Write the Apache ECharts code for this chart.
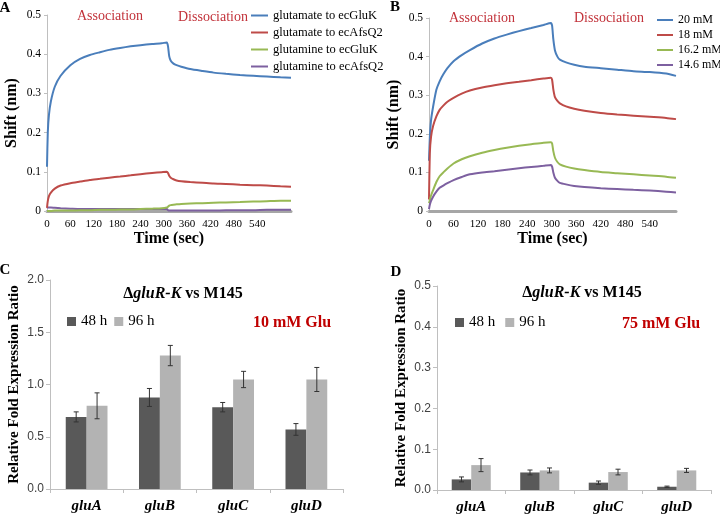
<!DOCTYPE html>
<html>
<head>
<meta charset="utf-8">
<script src="https://cdn.jsdelivr.net/npm/echarts@6/dist/echarts.min.js"></script>
<style>
  html, body { margin: 0; padding: 0; background: #fff; }
  #main { width: 720px; height: 516px; }
</style>
</head>
<body>
<div id="main"></div>
<script>
// ---- panel A : binding curves (time in sec, shift in nm)
var timeA = [0, 2, 5, 10, 20, 35, 60, 85, 110, 136, 160, 188, 215, 240, 270, 295, 308, 311, 314, 318, 325, 333, 345, 368, 400, 428, 460, 496, 530, 565, 600, 627];
var gluToGluK = [0.113, 0.2, 0.245, 0.28, 0.317, 0.345, 0.372, 0.388, 0.398, 0.405, 0.411, 0.416, 0.42, 0.423, 0.426, 0.428, 0.43, 0.42, 0.395, 0.383, 0.376, 0.372, 0.368, 0.362, 0.357, 0.353, 0.35, 0.347, 0.345, 0.343, 0.341, 0.34];
var gluToAfsQ2 = [0.008, 0.025, 0.038, 0.047, 0.057, 0.065, 0.071, 0.075, 0.079, 0.082, 0.085, 0.088, 0.091, 0.094, 0.097, 0.099, 0.1, 0.097, 0.09, 0.085, 0.081, 0.078, 0.076, 0.074, 0.072, 0.07, 0.069, 0.067, 0.066, 0.065, 0.063, 0.062];
var glnToGluK = [0, 0, 0, 0, 0.001, 0.001, 0.001, 0.002, 0.002, 0.003, 0.003, 0.004, 0.004, 0.005, 0.006, 0.007, 0.009, 0.011, 0.014, 0.015, 0.016, 0.017, 0.018, 0.019, 0.02, 0.021, 0.022, 0.023, 0.024, 0.025, 0.026, 0.026];
var glnToAfsQ2 = [0.01, 0.009, 0.009, 0.009, 0.008, 0.007, 0.006, 0.005, 0.005, 0.005, 0.005, 0.005, 0.005, 0.005, 0.005, 0.005, 0.005, 0.002, 0.001, 0.001, 0.001, 0.001, 0.001, 0.001, 0.001, 0.001, 0.002, 0.002, 0.002, 0.003, 0.003, 0.003];
var namesA = ['glutamate to ecGluK', 'glutamate to ecAfsQ2', 'glutamine to ecGluK', 'glutamine to ecAfsQ2'];

// ---- panel B : concentration series
var timeB = [0, 2, 5, 10, 18, 26, 35, 45, 60, 80, 100, 130, 160, 190, 220, 250, 280, 298, 301, 304, 308, 314, 320, 335, 355, 380, 420, 460, 500, 540, 580, 604];
var mM20 = [0.13, 0.19, 0.235, 0.27, 0.314, 0.336, 0.354, 0.37, 0.388, 0.404, 0.417, 0.434, 0.447, 0.457, 0.466, 0.474, 0.482, 0.487, 0.48, 0.445, 0.416, 0.4, 0.392, 0.385, 0.379, 0.374, 0.37, 0.366, 0.362, 0.36, 0.356, 0.35];
var mM18 = [0.03, 0.15, 0.192, 0.22, 0.245, 0.262, 0.273, 0.283, 0.293, 0.304, 0.312, 0.32, 0.326, 0.331, 0.335, 0.339, 0.343, 0.345, 0.34, 0.315, 0.295, 0.285, 0.279, 0.271, 0.265, 0.26, 0.254, 0.25, 0.247, 0.244, 0.241, 0.238];
var mM162 = [0.02, 0.028, 0.04, 0.054, 0.075, 0.09, 0.1, 0.11, 0.123, 0.134, 0.142, 0.151, 0.158, 0.164, 0.169, 0.173, 0.177, 0.178, 0.175, 0.155, 0.138, 0.127, 0.121, 0.115, 0.11, 0.106, 0.101, 0.098, 0.095, 0.092, 0.089, 0.086];
var mM146 = [0.005, 0.016, 0.026, 0.037, 0.05, 0.06, 0.066, 0.072, 0.08, 0.088, 0.095, 0.1, 0.103, 0.107, 0.111, 0.114, 0.117, 0.119, 0.115, 0.1, 0.086, 0.078, 0.073, 0.069, 0.065, 0.062, 0.059, 0.057, 0.055, 0.053, 0.05, 0.048];
var namesB = ['20 mM', '18 mM', '16.2 mM', '14.6 mM'];

// ---- panels C / D : qPCR ratios
var genes = ['gluA', 'gluB', 'gluC', 'gluD'];
var c48 = [0.69, 0.876, 0.783, 0.57];
var c48Err = [0.048, 0.086, 0.045, 0.056];
var c96 = [0.796, 1.277, 1.048, 1.048];
var c96Err = [0.124, 0.097, 0.078, 0.115];
var d48 = [0.026, 0.043, 0.018, 0.008];
var d48Err = [0.006, 0.006, 0.004, 0.0015];
var d96 = [0.061, 0.048, 0.044, 0.048];
var d96Err = [0.016, 0.006, 0.007, 0.005];

var lineColors = ['#4a7ebb', '#be4b48', '#98b954', '#7d60a0'];
var SERIF = '"Liberation Serif", "DejaVu Serif", serif';
var SANS = '"Liberation Sans", Arial, sans-serif';
var RED = '#c2323a';

var chart = echarts.init(document.getElementById('main'));

function pairs(t, v) {
    return t.map(function (x, i) { return [x, v[i]]; });
}

function errData(vals, errs) {
    return vals.map(function (v, i) { return [i, v - errs[i], v + errs[i]]; });
}

// draws an I-shaped error bar over the left (-1) or right (+1) bar of a group
function errRender(side) {
    return function (params, api) {
        var i = api.value(0);
        var lo = api.coord([i, api.value(1)]);
        var hi = api.coord([i, api.value(2)]);
        var band = api.size([1, 0])[0];
        var bw = band * 0.57 / 2;
        var x = lo[0] + side * bw / 2;
        var st = { stroke: '#333', lineWidth: 1 };
        return {
            type: 'group',
            children: [
                { type: 'line', shape: { x1: x, y1: lo[1], x2: x, y2: hi[1] }, style: st },
                { type: 'line', shape: { x1: x - 2.5, y1: lo[1], x2: x + 2.5, y2: lo[1] }, style: st },
                { type: 'line', shape: { x1: x - 2.5, y1: hi[1], x2: x + 2.5, y2: hi[1] }, style: st }
            ]
        };
    };
}

function timeAxis(idx, max) {
    return {
        type: 'value', gridIndex: idx, min: 0, max: max, interval: 60,
        name: 'Time (sec)', nameLocation: 'middle', nameGap: 19,
        nameTextStyle: { fontFamily: SERIF, fontWeight: 'bold', fontSize: 16, color: '#000' },
        axisLine: { lineStyle: { color: '#a6a6a6', width: 3 } },
        axisTick: { show: false },
        splitLine: { show: false },
        axisLabel: {
            fontFamily: SERIF, fontSize: 11, color: '#000', margin: 8,
            formatter: function (v) { return v > 540 ? '' : v; }
        }
    };
}

function shiftAxis(idx) {
    return {
        type: 'value', gridIndex: idx, min: 0, max: 0.5, interval: 0.1,
        name: 'Shift (nm)', nameLocation: 'middle', nameGap: 27,
        nameTextStyle: { fontFamily: SERIF, fontWeight: 'bold', fontSize: 16, color: '#000' },
        axisLine: { show: true, lineStyle: { color: '#bfbfbf' } },
        axisTick: { show: true, length: 3, lineStyle: { color: '#bfbfbf' } },
        splitLine: { show: false },
        axisLabel: { fontFamily: SERIF, fontSize: 11.5, color: '#000', margin: 6 }
    };
}

function geneAxis(idx) {
    return {
        type: 'category', gridIndex: idx, data: genes,
        axisLine: { lineStyle: { color: '#bfbfbf' } },
        axisTick: { show: true, length: 4, lineStyle: { color: '#bfbfbf' } },
        axisLabel: { fontFamily: SERIF, fontWeight: 'bold', fontStyle: 'italic', fontSize: 15, color: '#000', margin: 10 }
    };
}

function ratioAxis(idx, max, step) {
    return {
        type: 'value', gridIndex: idx, min: 0, max: max, interval: step,
        name: 'Relative Fold Expression Ratio', nameLocation: 'middle', nameGap: 28,
        nameTextStyle: { fontFamily: SERIF, fontWeight: 'bold', fontSize: 15, color: '#000' },
        axisLine: { show: true, lineStyle: { color: '#bfbfbf' } },
        axisTick: { show: true, length: 4, lineStyle: { color: '#bfbfbf' } },
        splitLine: { show: false },
        axisLabel: {
            fontFamily: SANS, fontSize: 12, color: '#404040', margin: 6,
            formatter: function (v) { return v.toFixed(1); }
        }
    };
}

var series = [];
[gluToGluK, gluToAfsQ2, glnToGluK, glnToAfsQ2].forEach(function (v, i) {
    series.push({
        name: namesA[i], type: 'line', xAxisIndex: 0, yAxisIndex: 0,
        data: pairs(timeA, v), showSymbol: false, smooth: 0.2,
        lineStyle: { width: 2, color: lineColors[i] }, itemStyle: { color: lineColors[i] },
        z: 5 - i
    });
});
[mM20, mM18, mM162, mM146].forEach(function (v, i) {
    series.push({
        name: namesB[i], type: 'line', xAxisIndex: 1, yAxisIndex: 1,
        data: pairs(timeB, v), showSymbol: false, smooth: 0.2,
        lineStyle: { width: 2, color: lineColors[i] }, itemStyle: { color: lineColors[i] }
    });
});

var barStyle = [['48 h', '#595959'], ['96 h', '#b3b3b3']];
[[c48, c96, c48Err, c96Err, 2], [d48, d96, d48Err, d96Err, 3]].forEach(function (p) {
    var g = p[4];
    [p[0], p[1]].forEach(function (vals, k) {
        series.push({
            name: barStyle[k][0], type: 'bar', xAxisIndex: g, yAxisIndex: g,
            data: vals, barGap: '0%', barCategoryGap: '43%',
            itemStyle: { color: barStyle[k][1] }
        });
    });
    series.push({
        type: 'custom', xAxisIndex: g, yAxisIndex: g, z: 10,
        renderItem: errRender(-1), data: errData(p[0], p[2]), encode: { x: 0, y: [1, 2] }
    });
    series.push({
        type: 'custom', xAxisIndex: g, yAxisIndex: g, z: 10,
        renderItem: errRender(1), data: errData(p[1], p[3]), encode: { x: 0, y: [1, 2] }
    });
});

function label(text, x, y, font, color) {
    return {
        type: 'text', x: x, y: y, z: 100,
        style: {
            text: text, font: font, fill: color || '#000',
            align: 'center', verticalAlign: 'middle',
            textAlign: 'center', textVerticalAlign: 'middle'
        }
    };
}

function deltaTitle(x, y) {
    return {
        type: 'text', x: x, y: y, z: 100,
        style: {
            text: '{a|Δ}{b|gluR-K}{a| vs M145}',
            align: 'center', verticalAlign: 'middle',
            textAlign: 'center', textVerticalAlign: 'middle',
            rich: {
                a: { fontFamily: SERIF, fontWeight: 'bold', fontSize: 16, fill: '#000' },
                b: { fontFamily: SERIF, fontWeight: 'bold', fontStyle: 'italic', fontSize: 16, fill: '#000' }
            }
        }
    };
}

var legendCommonLine = {
    orient: 'vertical', icon: 'rect', itemWidth: 17, itemHeight: 2, padding: 0,
    textStyle: { fontFamily: SERIF, color: '#000' }
};

chart.setOption({
    animation: false,
    backgroundColor: '#fff',
    grid: [
        { left: 47, top: 15, width: 244, height: 196 },
        { left: 429, top: 18, width: 247, height: 193 },
        { left: 50, top: 280, width: 293, height: 209 },
        { left: 437, top: 286, width: 274, height: 204 }
    ],
    xAxis: [timeAxis(0, 627), timeAxis(1, 604), geneAxis(2), geneAxis(3)],
    yAxis: [shiftAxis(0), shiftAxis(1), ratioAxis(2, 2, 0.5), ratioAxis(3, 0.5, 0.1)],
    legend: [
        echarts.util.merge({ data: namesA, left: 251, top: 9, itemGap: 4, textStyle: { fontSize: 12.5 } }, legendCommonLine),
        echarts.util.merge({ data: namesB, left: 657, top: 14, itemGap: 3, itemWidth: 16, textStyle: { fontSize: 12 } }, legendCommonLine),
        {
            data: ['48 h', '96 h'], left: 67, top: 314, padding: 0, icon: 'rect', itemWidth: 9, itemHeight: 9, itemGap: 7,
            textStyle: { fontFamily: SERIF, fontSize: 15, color: '#000' }
        },
        {
            data: ['48 h', '96 h'], left: 455, top: 315, padding: 0, icon: 'rect', itemWidth: 9, itemHeight: 9, itemGap: 10,
            textStyle: { fontFamily: SERIF, fontSize: 15, color: '#000' }
        }
    ],
    graphic: [
        label('A', 5, 8, 'bold 15px ' + SERIF),
        label('B', 395, 7, 'bold 15px ' + SERIF),
        label('C', 5, 270, 'bold 15px ' + SERIF),
        label('D', 396, 272, 'bold 15px ' + SERIF),
        label('Association', 110, 16, '14px ' + SERIF, RED),
        label('Dissociation', 213, 17, '14px ' + SERIF, RED),
        label('Association', 482, 18, '14px ' + SERIF, RED),
        label('Dissociation', 609, 18, '14px ' + SERIF, RED),
        deltaTitle(183, 294),
        deltaTitle(582, 293),
        label('10 mM Glu', 292, 323, 'bold 16px ' + SERIF, '#c00000'),
        label('75 mM Glu', 661, 324, 'bold 16px ' + SERIF, '#c00000')
    ],
    series: series
});
</script>
</body>
</html>
